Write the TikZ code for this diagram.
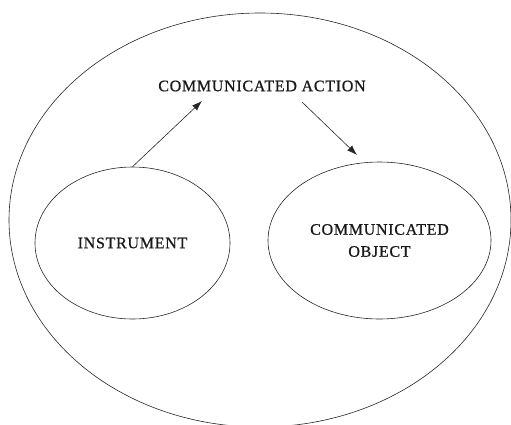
\documentclass[tikz,border=0pt]{standalone}
\usepackage{fontspec}
\usetikzlibrary{shapes.geometric,arrows.meta}
\newfontfamily\labelfont[LetterSpace=4.5,FakeBold=0.8]{Liberation Serif}
\begin{document}
\begin{tikzpicture}[x=1pt,y=-1pt,
  outline/.style={draw=black!85, line width=0.6pt},
  label/.style={font=\labelfont\fontsize{16}{22}\selectfont, text=black!90, inner sep=0pt, align=center},
  part/.style={outline, ellipse, inner sep=0pt},
  flow/.style={draw=black!85, line width=0.6pt, -{Latex[length=10pt,width=7pt]}}]
  \useasboundingbox (0,0) rectangle (511,424);
  % enclosing ellipse
  \draw[outline] (260,220) ellipse [x radius=251pt, y radius=207pt];
  % heading and the two parts
  \node[label] (action) at (262,86) {COMMUNICATED ACTION};
  \node[part, minimum width=195pt, minimum height=152pt] (instr) at (132.5,243) {};
  \node[label] at (instr.center) {INSTRUMENT};
  \node[part, minimum width=223pt, minimum height=157pt] (obj) at (379.5,240.5) {};
  \node[label] at (obj.center) {COMMUNICATED\\OBJECT};
  % arrow end points
  \coordinate (in1) at (202,101);
  \coordinate (out2) at (302,102);
  \coordinate (in2) at (357,155);
  \draw[flow] (instr.north) -- (in1);
  \draw[flow] (out2) -- (in2);
\end{tikzpicture}
\end{document}
